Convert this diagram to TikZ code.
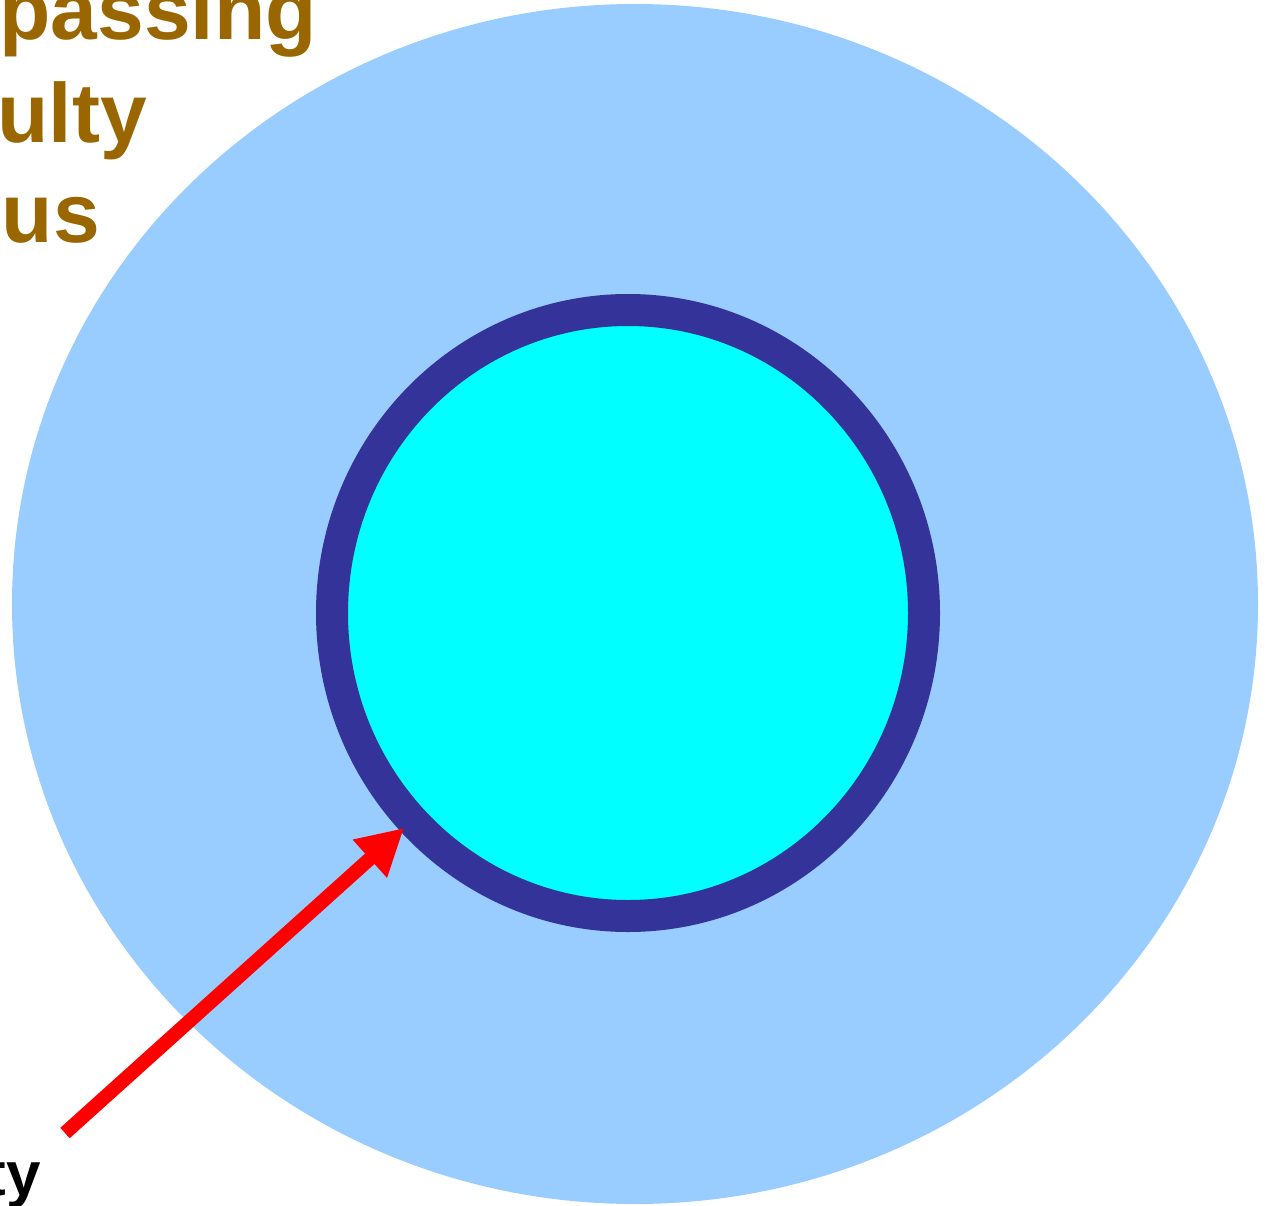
\documentclass[tikz,border=0pt]{standalone}
\usepackage{fontspec}
\setmainfont{Liberation Sans}
\usetikzlibrary{arrows.meta}
\definecolor{outerblue}{HTML}{99CCFF}
\definecolor{ringblue}{HTML}{333399}
\definecolor{cyanfill}{HTML}{00FFFF}
\definecolor{brownt}{HTML}{996600}
\tikzset{
  brownlabel/.style={text=brownt,font=\fontsize{84}{100}\selectfont\bfseries,inner sep=0pt,anchor=base east},
  blacklabel/.style={text=black,font=\fontsize{62}{74}\selectfont\bfseries,inner sep=0pt,anchor=base east},
  redarrow/.style={draw=red,line width=14pt,-{Triangle[length=46pt,width=48pt]}}
}
\begin{document}
\begin{tikzpicture}[x=1pt,y=-1pt]
\useasboundingbox (0,0) rectangle (1276,1206);
\clip (0,0) rectangle (1276,1206);
\fill[outerblue] (635,604) ellipse [x radius=623, y radius=600];
\fill[cyanfill] (628,613) ellipse [x radius=296, y radius=303];
\draw[ringblue,line width=32pt] (628,613) ellipse [x radius=296, y radius=303];
\node[brownlabel] (l1) at (317,40) {rpassing};
\node[brownlabel] (l2) at (147,143) {ulty};
\node[brownlabel] (l3) at (100,243) {us};
\node[blacklabel] (l4) at (41,1195) {ty};
\coordinate (astart) at (65,1133);
\coordinate (atip) at (404,828);
\draw[redarrow] (astart) -- (atip);
\end{tikzpicture}
\end{document}
